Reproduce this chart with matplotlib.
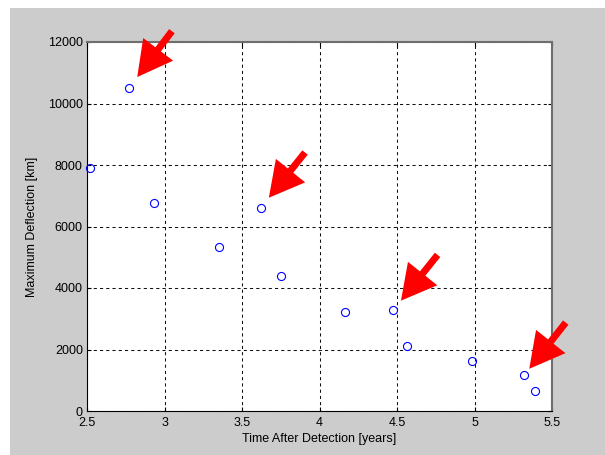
import matplotlib
matplotlib.use('Agg')
import matplotlib.pyplot as plt
from matplotlib.patches import Rectangle

plt.rcParams['font.family'] = ['Liberation Sans', 'DejaVu Sans']

time_years = [2.52, 2.77, 2.93, 3.35, 3.62, 3.75, 4.165, 4.475, 4.565, 4.985, 5.32, 5.39]
deflection_km = [7900, 10500, 6780, 5320, 6600, 4390, 3230, 3270, 2110, 1640, 1160, 640]

# indices of the points marked with red arrows
marked = [1, 4, 7, 10]
# tail offset (points) and gap between tip and point (points)
arrow_tail = [(31, 41), (32, 40), (32, 40), (30, 38)]
arrow_gap = [10, 9.5, 9, 6]

x_ticks = [2.5, 3, 3.5, 4, 4.5, 5, 5.5]
y_ticks = [0, 2000, 4000, 6000, 8000, 10000, 12000]

fig = plt.figure(figsize=(6.05, 4.55), dpi=100, facecolor='white')
fig.patches.append(Rectangle((10 / 605, 0), 1, (455 - 8) / 455, transform=fig.transFigure,
                             facecolor='#cccccc', edgecolor='none', zorder=-10))

ax = fig.add_axes([87 / 605, 44 / 455, 465 / 605, 369 / 455])
ax.set_facecolor('white')

ax.plot(time_years, deflection_km, linestyle='none', marker='o', markersize=5.8,
        markerfacecolor='none', markeredgecolor='#0000ff', markeredgewidth=0.8,
        clip_on=False, zorder=3)

for i, (dx, dy), gap in zip(marked, arrow_tail, arrow_gap):
    ax.annotate('', xy=(time_years[i], deflection_km[i]), xycoords='data',
                xytext=(dx, dy), textcoords='offset points',
                arrowprops=dict(arrowstyle='simple,head_width=2.7,head_length=2.5,tail_width=0.5',
                                mutation_scale=10, facecolor='#ff0000', edgecolor='none',
                                shrinkA=0, shrinkB=gap),
                annotation_clip=False, zorder=4)

ax.set_xlim(2.5, 5.5)
ax.set_ylim(0, 12000)
ax.set_xticks(x_ticks)
ax.set_yticks(y_ticks)
ax.set_xticklabels([('%g' % t) for t in x_ticks])
ax.set_yticklabels([('%d' % t) for t in y_ticks])

ax.grid(True, color='#111111', linestyle=(0, (3, 3)), linewidth=0.75)
ax.tick_params(direction='in', length=3, width=0.8, top=True, right=True,
               labelsize=9, pad=3, colors='black')
ax.tick_params(axis='x', pad=4)

for side in ['left', 'bottom']:
    ax.spines[side].set_color('black')
    ax.spines[side].set_linewidth(0.8)
for side in ['top', 'right']:
    ax.spines[side].set_color('#6e6e6e')
    ax.spines[side].set_linewidth(1.5)

ax.set_xlabel('Time After Detection [years]', fontsize=9, labelpad=3)
ax.set_ylabel('Maximum Deflection [km]', fontsize=9, labelpad=7)

fig.savefig('out.png', dpi=100, facecolor=fig.get_facecolor())
